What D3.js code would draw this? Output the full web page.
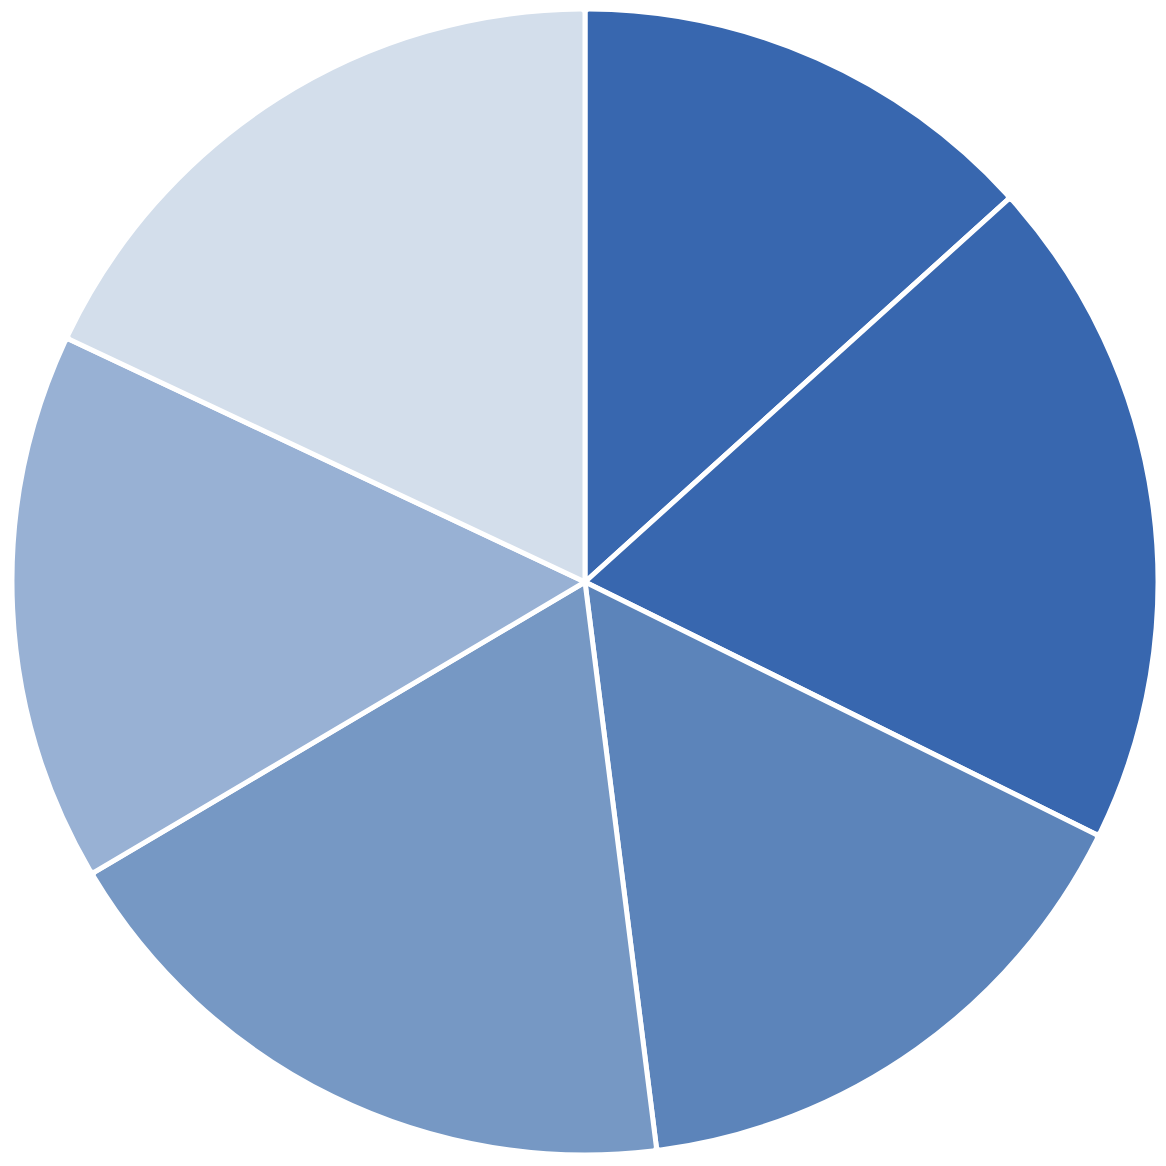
<!DOCTYPE html>
<html><head><meta charset="utf-8">
<script src="https://cdn.jsdelivr.net/npm/d3@7"></script>
<style>html,body{margin:0;padding:0;background:#fff;}</style>
</head><body>
<svg id="chart" width="1166" height="1166"></svg>
<script>
const categories = ["A","B","C","D","E","F"];
const values = [13.3, 19.0, 15.7, 18.5, 15.5, 18.0];
const colors = ["#3867AF","#3867AF","#5C84BA","#7698C4","#98B1D4","#D3DEEB"];

const svg = d3.select("#chart");
const cx = 585, cy = 582, r = 573;
const g = svg.append("g").attr("transform", `translate(${cx},${cy})`);
const pie = d3.pie().sort(null).value(d => d.v);
const arc = d3.arc().innerRadius(0).outerRadius(r).cornerRadius(4);
const data = categories.map((c,i)=>({c, v: values[i], col: colors[i]}));
g.selectAll("path").data(pie(data)).join("path")
  .attr("d", arc)
  .attr("fill", d => d.data.col)
  .attr("stroke", "#fff")
  .attr("stroke-width", 5)
  .attr("stroke-linejoin", "round");
</script>
</body></html>
